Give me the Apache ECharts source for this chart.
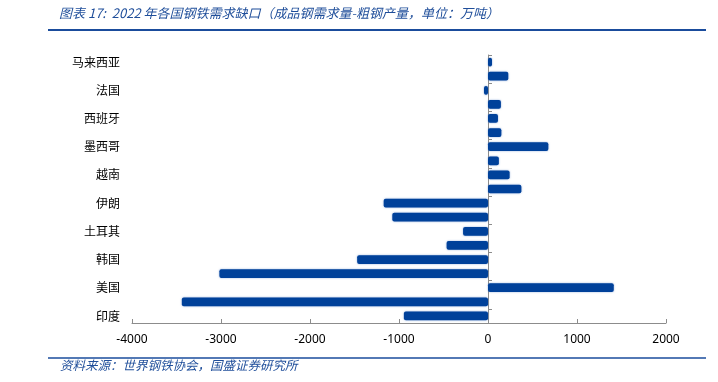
<!DOCTYPE html>
<html>
<head>
<meta charset="utf-8">
<script src="https://cdn.jsdelivr.net/npm/echarts@6/dist/echarts.min.js"></script>
<style>
  html, body { margin: 0; padding: 0; background: #fff; }
  #chart { width: 718px; height: 382px; }
</style>
</head>
<body>
<div id="chart"></div>
<script>
// 从上到下的顺序（只标注隔行的国家名）
const countries = ['马来西亚', '', '法国', '', '西班牙', '', '墨西哥', '', '越南', '',
  '伊朗', '', '土耳其', '', '韩国', '', '美国', '', '印度']
// 成品钢需求量-粗钢产量，万吨
const gapValues = [45, 228, -45, 145, 112, 150, 678, 122, 243, 375,
  -1172, -1075, -280, -465, -1470, -3018, 1413, -3440, -945]
const xTicks = { min: -4000, max: 2000, interval: 1000 }

const titleText = '图表 17:  2022 年各国钢铁需求缺口（成品钢需求量-粗钢产量，单位：万吨）'
const sourceText = '资料来源：世界钢铁协会，国盛证券研究所'

const blue = '#00419a'
const cjkFont = '"Noto Sans CJK SC", sans-serif'

const chart = echarts.init(document.getElementById('chart'))

const option = {
  animation: false,
  grid: { left: 132, right: 52, top: 55, bottom: 59 },
  xAxis: {
    type: 'value',
    min: xTicks.min,
    max: xTicks.max,
    interval: xTicks.interval,
    splitLine: { show: false },
    axisLine: { show: true, lineStyle: { color: '#8c8c8c', width: 1 } },
    axisTick: { show: true, inside: true, length: 4, lineStyle: { color: '#8c8c8c' } },
    axisLabel: {
      color: '#000',
      fontSize: 12,
      margin: 11,
      fontFamily: '"Noto Sans", sans-serif',
      formatter: (v) => String(v)
    }
  },
  yAxis: [
    {
      // 左侧国家名
      type: 'category',
      data: countries,
      inverse: true,
      position: 'left',
      axisLine: { show: false, onZero: false },
      axisTick: { show: false },
      axisLabel: { interval: 0, margin: 12, color: '#000', fontSize: 12, fontFamily: cjkFont }
    },
    {
      // 零位置的竖轴线
      type: 'category',
      data: countries,
      inverse: true,
      position: 'left',
      axisLine: { show: true, onZero: true, lineStyle: { color: '#8c8c8c', width: 1 } },
      axisTick: { show: true, inside: true, length: 4, lineStyle: { color: '#8c8c8c' } },
      axisLabel: { show: false }
    }
  ],
  series: [
    {
      type: 'bar',
      yAxisIndex: 0,
      data: gapValues,
      barCategoryGap: '38%',
      itemStyle: {
        color: blue,
        borderRadius: 2,
        shadowBlur: 2,
        shadowColor: 'rgba(60,110,190,0.6)'
      }
    }
  ],
  graphic: [
    {
      type: 'text',
      left: 59,
      top: 7,
      style: {
        text: titleText,
        fill: '#1f4e9a',
        font: 'italic 13px ' + cjkFont
      }
    },
    {
      type: 'line',
      shape: { x1: 48, y1: 30, x2: 706, y2: 30 },
      style: { stroke: '#1a4c9c', lineWidth: 2 }
    },
    {
      type: 'line',
      shape: { x1: 48, y1: 358, x2: 706, y2: 358 },
      style: { stroke: '#1a4c9c', lineWidth: 1.5 }
    },
    {
      type: 'text',
      left: 60,
      top: 359,
      style: {
        text: sourceText,
        fill: '#1f4e9a',
        font: 'italic 12.5px ' + cjkFont
      }
    }
  ]
}

chart.setOption(option)
</script>
</body>
</html>
